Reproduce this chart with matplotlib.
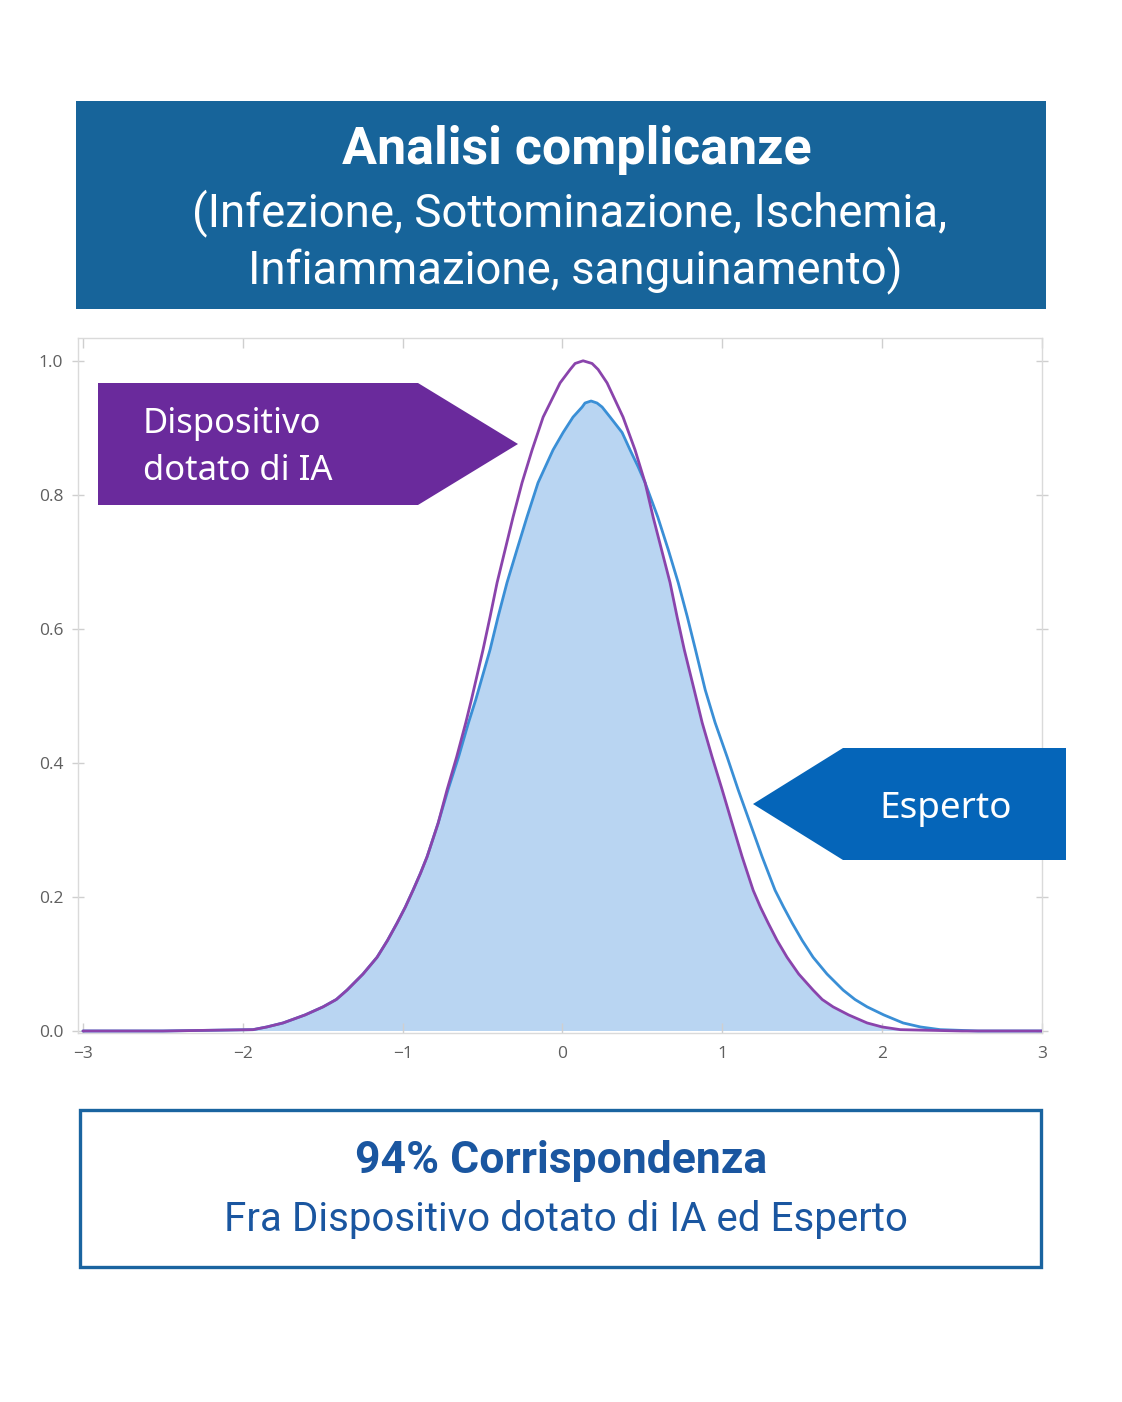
import numpy as np
import matplotlib
matplotlib.use("Agg")
import matplotlib.pyplot as plt
from matplotlib.patches import Polygon, Rectangle

# ---------------- data ----------------
ai_x = [-3.0, -2.5, -1.936, -1.85, -1.748, -1.61, -1.498, -1.415, -1.348, -1.248, -1.160,
        -1.095, -1.035, -0.983, -0.935, -0.889, -0.847, -0.778, -0.722, -0.662, -0.605,
        -0.570, -0.497, -0.453, -0.409, -0.359, -0.309, -0.253, -0.190, -0.121, -0.015,
        0.048, 0.079, 0.129, 0.185, 0.223, 0.279, 0.379, 0.454, 0.517, 0.567, 0.620,
        0.673, 0.717, 0.762, 0.824, 0.874, 0.936, 0.999, 1.061, 1.124, 1.193, 1.238,
        1.287, 1.343, 1.405, 1.478, 1.568, 1.625, 1.693, 1.790, 1.906, 2.0, 2.113, 2.5, 3.0]
ai_y = [0.0, 0.0, 0.002, 0.006, 0.012, 0.024, 0.036, 0.047, 0.061, 0.085, 0.110,
        0.135, 0.161, 0.185, 0.210, 0.235, 0.260, 0.310, 0.360, 0.409, 0.460,
        0.494, 0.569, 0.618, 0.669, 0.718, 0.767, 0.818, 0.867, 0.916, 0.967,
        0.987, 0.996, 1.0, 0.996, 0.987, 0.967, 0.916, 0.867, 0.818, 0.767, 0.718,
        0.669, 0.618, 0.569, 0.509, 0.460, 0.409, 0.360, 0.310, 0.260, 0.210, 0.185,
        0.161, 0.135, 0.110, 0.085, 0.061, 0.047, 0.036, 0.024, 0.012, 0.006, 0.002, 0.0, 0.0]

exp_x = [-3.0, -2.5, -1.936, -1.85, -1.748, -1.61, -1.498, -1.415, -1.348, -1.248, -1.160,
         -1.095, -1.035, -0.983, -0.935, -0.889, -0.847, -0.778, -0.716, -0.650, -0.588,
         -0.543, -0.453, -0.403, -0.347, -0.285, -0.222, -0.153, -0.059, 0.004, 0.066,
         0.123, 0.141, 0.179, 0.216, 0.248, 0.298, 0.373, 0.423, 0.473, 0.517, 0.596,
         0.662, 0.724, 0.781, 0.832, 0.893, 0.955, 1.030, 1.099, 1.174, 1.249, 1.330,
         1.383, 1.437, 1.500, 1.568, 1.655, 1.756, 1.830, 1.906, 2.010, 2.131, 2.240,
         2.363, 2.6, 3.0]
exp_y = [0.0, 0.0, 0.002, 0.006, 0.012, 0.024, 0.036, 0.047, 0.061, 0.085, 0.110,
         0.135, 0.161, 0.185, 0.210, 0.235, 0.260, 0.310, 0.360, 0.409, 0.460,
         0.494, 0.569, 0.618, 0.669, 0.718, 0.767, 0.818, 0.867, 0.893, 0.916,
         0.931, 0.937, 0.940, 0.937, 0.931, 0.916, 0.893, 0.867, 0.842, 0.818, 0.767,
         0.718, 0.669, 0.618, 0.569, 0.509, 0.460, 0.409, 0.360, 0.310, 0.260, 0.210,
         0.185, 0.161, 0.135, 0.110, 0.085, 0.061, 0.047, 0.036, 0.024, 0.012, 0.006,
         0.002, 0.0, 0.0]

x_ticks = [-3, -2, -1, 0, 1, 2, 3]
y_ticks = [0.0, 0.2, 0.4, 0.6, 0.8, 1.0]

title_main = "Analisi complicanze"
title_sub1 = "(Infezione, Sottominazione, Ischemia,"
title_sub2 = "Infiammazione, sanguinamento)"
label_ai = ["Dispositivo", "dotato di IA"]
label_exp = "Esperto"
foot_main = "94% Corrispondenza"
foot_sub = "Fra Dispositivo dotato di IA ed Esperto"

# ---------------- colours ----------------
HEADER = "#17649a"
PURPLE_BOX = "#6a2a9c"
BLUE_BOX = "#0565b9"
PURPLE_LINE = "#8a44ac"
BLUE_LINE = "#3a8fd6"
FILL = "#b9d5f2"
FOOT_EDGE = "#1a64a0"
FOOT_TEXT = "#1a56a0"

W, H = 1122, 1402
fig = plt.figure(figsize=(W / 100, H / 100), dpi=100)
fig.patch.set_facecolor("white")


def fx(px):
    return px / W


def fy(py):
    return 1 - py / H


renderer = fig.canvas.get_renderer()


def fit(t, target_px):
    w = t.get_window_extent(renderer).width
    t.set_fontsize(t.get_fontsize() * target_px / w)


# ---------------- header ----------------
fig.add_artist(Rectangle((fx(76), fy(309)), (1046 - 76) / W, (309 - 101) / H,
                         transform=fig.transFigure, facecolor=HEADER, edgecolor="none", zorder=1))
t1 = fig.text(fx(577), fy(164), title_main, ha="center", va="baseline", color="white",
              fontsize=32, fontweight="bold", family="Roboto", zorder=2)
t2 = fig.text(fx(570), fy(226), title_sub1, ha="center", va="baseline", color="white",
              fontsize=30, family="Roboto", zorder=2)
t3 = fig.text(fx(575), fy(283), title_sub2, ha="center", va="baseline", color="white",
              fontsize=30, family="Roboto", zorder=2)
fit(t1, 470)
fit(t2, 756)
t3.set_fontsize(t2.get_fontsize())

# ---------------- axes ----------------
ax = fig.add_axes([fx(78), fy(1033), (1042 - 78) / W, (1033 - 338) / H])
ax.set_facecolor("white")
ax.set_xlim(-3.031, 3.0)
ax.set_ylim(-0.003, 1.034)

# fill under the lower of the two curves (intersection via clipping)
fill_ai = ax.fill_between(ai_x, ai_y, 0, color=FILL, linewidth=0, zorder=1)
clip = ax.fill_between(exp_x, exp_y, 0, color="none", linewidth=0, zorder=0)
fill_ai.set_clip_path(clip.get_paths()[0], ax.transData)

ax.plot(exp_x, exp_y, color=BLUE_LINE, lw=2.0, zorder=3, solid_capstyle="round",
        solid_joinstyle="round")
ax.plot(ai_x, ai_y, color=PURPLE_LINE, lw=2.0, zorder=4, solid_capstyle="round",
        solid_joinstyle="round")

for s in ax.spines.values():
    s.set_color("#dadada")
    s.set_linewidth(1.0)

ax.set_xticks(x_ticks)
ax.set_xticklabels([f"\u2212{abs(v)}" if v < 0 else str(v) for v in x_ticks])
ax.set_yticks(y_ticks)
ax.set_yticklabels([f"{v:.1f}" for v in y_ticks])
ax.tick_params(axis="x", direction="in", top=True, bottom=True, length=7, width=1,
               color="#cfcfcf", labelsize=12.5, labelcolor="#5f5f5f", pad=9)
ax.tick_params(axis="y", direction="inout", left=True, right=True, length=9, width=1,
               color="#cfcfcf", labelsize=12.5, labelcolor="#5f5f5f", pad=6)
for lab in ax.get_xticklabels() + ax.get_yticklabels():
    lab.set_family("Open Sans")

# ---------------- callouts ----------------
fig.add_artist(Polygon([(fx(98), fy(383)), (fx(418), fy(383)), (fx(518), fy(444)),
                        (fx(418), fy(505)), (fx(98), fy(505))], closed=True,
                       transform=fig.transFigure, facecolor=PURPLE_BOX, edgecolor="none", zorder=5))
a1 = fig.text(fx(143), fy(433), label_ai[0], ha="left", va="baseline", color="white",
              fontsize=24, family="Noto Sans", zorder=6)
a2 = fig.text(fx(143), fy(480), label_ai[1], ha="left", va="baseline", color="white",
              fontsize=24, family="Noto Sans", zorder=6)
fit(a1, 179)
a2.set_fontsize(a1.get_fontsize())

fig.add_artist(Polygon([(fx(843), fy(748)), (fx(1066), fy(748)), (fx(1066), fy(860)),
                        (fx(843), fy(860)), (fx(753), fy(804))], closed=True,
                       transform=fig.transFigure, facecolor=BLUE_BOX, edgecolor="none", zorder=5))
e1 = fig.text(fx(946), fy(818), label_exp, ha="center", va="baseline", color="white",
              fontsize=24, family="Noto Sans", zorder=6)
fit(e1, 133)

# ---------------- footer box ----------------
fig.add_artist(Rectangle((fx(80), fy(1267)), (1041 - 80) / W, (1267 - 1110) / H,
                         transform=fig.transFigure, facecolor="white", edgecolor=FOOT_EDGE,
                         linewidth=2.4, zorder=1))
f1 = fig.text(fx(561), fy(1173), foot_main, ha="center", va="baseline", color=FOOT_TEXT,
              fontsize=28, fontweight="bold", family="Roboto", zorder=2)
f2 = fig.text(fx(566), fy(1231), foot_sub, ha="center", va="baseline", color=FOOT_TEXT,
              fontsize=26, family="Roboto", zorder=2)
fit(f1, 412)
fit(f2, 683)

fig.savefig("out.png", dpi=100, facecolor="white")
